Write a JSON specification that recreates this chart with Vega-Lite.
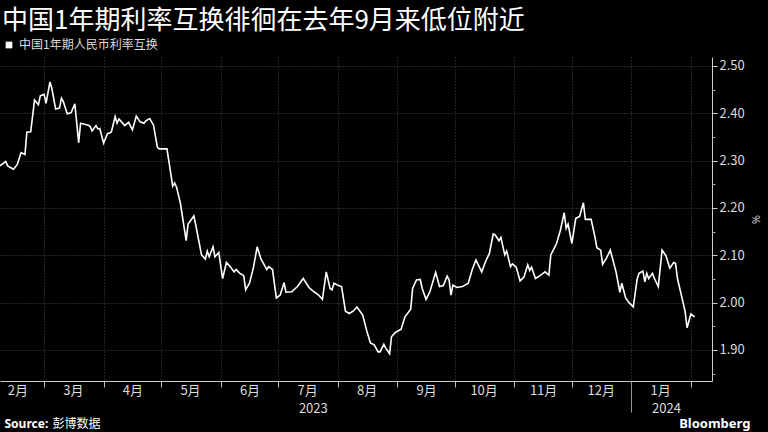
{
  "$schema": "https://vega.github.io/schema/vega-lite/v6.json",
  "width": 712,
  "height": 324,
  "autosize": {"type": "none"},
  "padding": {"left": 0, "top": 57, "right": 56, "bottom": 51},
  "background": "#000000",
  "title": {
    "text": "中国1年期利率互换徘徊在去年9月来低位附近",
    "anchor": "start",
    "frame": "group",
    "font": "Noto Sans CJK SC",
    "fontSize": 26,
    "fontWeight": "normal",
    "color": "#ffffff",
    "offset": 5,
    "dx": 2
  },
  "config": {
    "view": {"stroke": null},
    "axis": {"labelFont": "Liberation Sans Narrow, Noto Sans CJK SC, sans-serif", "titleFont": "Noto Sans CJK SC"}
  },
  "data": {
    "values": [
      {"date": "2023-02-06", "value": 2.289},
      {"date": "2023-02-07", "value": 2.292},
      {"date": "2023-02-09", "value": 2.298},
      {"date": "2023-02-10", "value": 2.289},
      {"date": "2023-02-13", "value": 2.282},
      {"date": "2023-02-15", "value": 2.292},
      {"date": "2023-02-17", "value": 2.317},
      {"date": "2023-02-19", "value": 2.313},
      {"date": "2023-02-20", "value": 2.360},
      {"date": "2023-02-22", "value": 2.361},
      {"date": "2023-02-24", "value": 2.428},
      {"date": "2023-02-26", "value": 2.418},
      {"date": "2023-02-27", "value": 2.437},
      {"date": "2023-03-01", "value": 2.440},
      {"date": "2023-03-02", "value": 2.421},
      {"date": "2023-03-04", "value": 2.466},
      {"date": "2023-03-05", "value": 2.453},
      {"date": "2023-03-07", "value": 2.409},
      {"date": "2023-03-09", "value": 2.411},
      {"date": "2023-03-10", "value": 2.432},
      {"date": "2023-03-11", "value": 2.425},
      {"date": "2023-03-13", "value": 2.399},
      {"date": "2023-03-15", "value": 2.401},
      {"date": "2023-03-17", "value": 2.420},
      {"date": "2023-03-19", "value": 2.338},
      {"date": "2023-03-20", "value": 2.379},
      {"date": "2023-03-24", "value": 2.375},
      {"date": "2023-03-25", "value": 2.372},
      {"date": "2023-03-26", "value": 2.363},
      {"date": "2023-03-28", "value": 2.374},
      {"date": "2023-03-29", "value": 2.367},
      {"date": "2023-03-30", "value": 2.368},
      {"date": "2023-04-01", "value": 2.337},
      {"date": "2023-04-03", "value": 2.357},
      {"date": "2023-04-05", "value": 2.360},
      {"date": "2023-04-07", "value": 2.393},
      {"date": "2023-04-08", "value": 2.379},
      {"date": "2023-04-09", "value": 2.388},
      {"date": "2023-04-12", "value": 2.374},
      {"date": "2023-04-14", "value": 2.381},
      {"date": "2023-04-16", "value": 2.365},
      {"date": "2023-04-18", "value": 2.394},
      {"date": "2023-04-20", "value": 2.382},
      {"date": "2023-04-22", "value": 2.379},
      {"date": "2023-04-23", "value": 2.384},
      {"date": "2023-04-25", "value": 2.389},
      {"date": "2023-04-27", "value": 2.375},
      {"date": "2023-04-29", "value": 2.328},
      {"date": "2023-04-30", "value": 2.325},
      {"date": "2023-05-04", "value": 2.325},
      {"date": "2023-05-07", "value": 2.246},
      {"date": "2023-05-08", "value": 2.253},
      {"date": "2023-05-09", "value": 2.244},
      {"date": "2023-05-11", "value": 2.210},
      {"date": "2023-05-14", "value": 2.131},
      {"date": "2023-05-15", "value": 2.166},
      {"date": "2023-05-18", "value": 2.183},
      {"date": "2023-05-19", "value": 2.164},
      {"date": "2023-05-22", "value": 2.101},
      {"date": "2023-05-24", "value": 2.092},
      {"date": "2023-05-25", "value": 2.109},
      {"date": "2023-05-26", "value": 2.097},
      {"date": "2023-05-28", "value": 2.118},
      {"date": "2023-05-29", "value": 2.097},
      {"date": "2023-05-31", "value": 2.106},
      {"date": "2023-06-02", "value": 2.051},
      {"date": "2023-06-04", "value": 2.085},
      {"date": "2023-06-06", "value": 2.076},
      {"date": "2023-06-08", "value": 2.065},
      {"date": "2023-06-09", "value": 2.070},
      {"date": "2023-06-11", "value": 2.062},
      {"date": "2023-06-13", "value": 2.057},
      {"date": "2023-06-14", "value": 2.027},
      {"date": "2023-06-16", "value": 2.041},
      {"date": "2023-06-18", "value": 2.073},
      {"date": "2023-06-20", "value": 2.118},
      {"date": "2023-06-22", "value": 2.092},
      {"date": "2023-06-23", "value": 2.085},
      {"date": "2023-06-25", "value": 2.070},
      {"date": "2023-06-26", "value": 2.076},
      {"date": "2023-06-28", "value": 2.070},
      {"date": "2023-06-30", "value": 2.010},
      {"date": "2023-07-02", "value": 2.016},
      {"date": "2023-07-04", "value": 2.042},
      {"date": "2023-07-05", "value": 2.022},
      {"date": "2023-07-08", "value": 2.023},
      {"date": "2023-07-11", "value": 2.034},
      {"date": "2023-07-14", "value": 2.051},
      {"date": "2023-07-17", "value": 2.032},
      {"date": "2023-07-19", "value": 2.025},
      {"date": "2023-07-22", "value": 2.016},
      {"date": "2023-07-24", "value": 2.007},
      {"date": "2023-07-26", "value": 2.065},
      {"date": "2023-07-28", "value": 2.030},
      {"date": "2023-07-29", "value": 2.027},
      {"date": "2023-07-30", "value": 2.041},
      {"date": "2023-08-02", "value": 2.035},
      {"date": "2023-08-03", "value": 2.034},
      {"date": "2023-08-05", "value": 1.982},
      {"date": "2023-08-07", "value": 1.977},
      {"date": "2023-08-09", "value": 1.982},
      {"date": "2023-08-11", "value": 1.991},
      {"date": "2023-08-14", "value": 1.974},
      {"date": "2023-08-16", "value": 1.942},
      {"date": "2023-08-18", "value": 1.915},
      {"date": "2023-08-20", "value": 1.911},
      {"date": "2023-08-22", "value": 1.896},
      {"date": "2023-08-23", "value": 1.896},
      {"date": "2023-08-25", "value": 1.912},
      {"date": "2023-08-26", "value": 1.904},
      {"date": "2023-08-28", "value": 1.892},
      {"date": "2023-08-29", "value": 1.928},
      {"date": "2023-08-31", "value": 1.937},
      {"date": "2023-09-03", "value": 1.944},
      {"date": "2023-09-05", "value": 1.970},
      {"date": "2023-09-08", "value": 1.986},
      {"date": "2023-09-09", "value": 2.030},
      {"date": "2023-09-11", "value": 2.048},
      {"date": "2023-09-13", "value": 2.049},
      {"date": "2023-09-14", "value": 2.030},
      {"date": "2023-09-16", "value": 2.007},
      {"date": "2023-09-18", "value": 2.023},
      {"date": "2023-09-21", "value": 2.064},
      {"date": "2023-09-23", "value": 2.034},
      {"date": "2023-09-25", "value": 2.036},
      {"date": "2023-09-27", "value": 2.056},
      {"date": "2023-09-28", "value": 2.048},
      {"date": "2023-09-29", "value": 2.016},
      {"date": "2023-09-30", "value": 2.037},
      {"date": "2023-10-02", "value": 2.032},
      {"date": "2023-10-05", "value": 2.034},
      {"date": "2023-10-08", "value": 2.041},
      {"date": "2023-10-10", "value": 2.069},
      {"date": "2023-10-12", "value": 2.090},
      {"date": "2023-10-15", "value": 2.065},
      {"date": "2023-10-17", "value": 2.087},
      {"date": "2023-10-19", "value": 2.104},
      {"date": "2023-10-21", "value": 2.145},
      {"date": "2023-10-22", "value": 2.143},
      {"date": "2023-10-24", "value": 2.131},
      {"date": "2023-10-25", "value": 2.138},
      {"date": "2023-10-27", "value": 2.101},
      {"date": "2023-10-28", "value": 2.109},
      {"date": "2023-10-30", "value": 2.076},
      {"date": "2023-10-31", "value": 2.082},
      {"date": "2023-11-02", "value": 2.075},
      {"date": "2023-11-04", "value": 2.046},
      {"date": "2023-11-06", "value": 2.054},
      {"date": "2023-11-08", "value": 2.080},
      {"date": "2023-11-09", "value": 2.068},
      {"date": "2023-11-10", "value": 2.075},
      {"date": "2023-11-12", "value": 2.051},
      {"date": "2023-11-14", "value": 2.056},
      {"date": "2023-11-16", "value": 2.062},
      {"date": "2023-11-17", "value": 2.065},
      {"date": "2023-11-19", "value": 2.058},
      {"date": "2023-11-20", "value": 2.101},
      {"date": "2023-11-23", "value": 2.125},
      {"date": "2023-11-25", "value": 2.153},
      {"date": "2023-11-27", "value": 2.190},
      {"date": "2023-11-28", "value": 2.157},
      {"date": "2023-11-29", "value": 2.166},
      {"date": "2023-12-01", "value": 2.125},
      {"date": "2023-12-03", "value": 2.178},
      {"date": "2023-12-05", "value": 2.182},
      {"date": "2023-12-07", "value": 2.211},
      {"date": "2023-12-08", "value": 2.176},
      {"date": "2023-12-11", "value": 2.176},
      {"date": "2023-12-13", "value": 2.139},
      {"date": "2023-12-14", "value": 2.116},
      {"date": "2023-12-16", "value": 2.111},
      {"date": "2023-12-17", "value": 2.081},
      {"date": "2023-12-19", "value": 2.094},
      {"date": "2023-12-21", "value": 2.111},
      {"date": "2023-12-24", "value": 2.065},
      {"date": "2023-12-26", "value": 2.022},
      {"date": "2023-12-27", "value": 2.041},
      {"date": "2023-12-29", "value": 2.010},
      {"date": "2023-12-31", "value": 1.999},
      {"date": "2024-01-02", "value": 1.991},
      {"date": "2024-01-04", "value": 2.050},
      {"date": "2024-01-05", "value": 2.062},
      {"date": "2024-01-07", "value": 2.067},
      {"date": "2024-01-08", "value": 2.044},
      {"date": "2024-01-09", "value": 2.062},
      {"date": "2024-01-10", "value": 2.051},
      {"date": "2024-01-12", "value": 2.062},
      {"date": "2024-01-13", "value": 2.051},
      {"date": "2024-01-15", "value": 2.034},
      {"date": "2024-01-17", "value": 2.111},
      {"date": "2024-01-19", "value": 2.099},
      {"date": "2024-01-21", "value": 2.073},
      {"date": "2024-01-23", "value": 2.085},
      {"date": "2024-01-24", "value": 2.083},
      {"date": "2024-01-25", "value": 2.051},
      {"date": "2024-01-28", "value": 1.999},
      {"date": "2024-01-29", "value": 1.981},
      {"date": "2024-01-30", "value": 1.947},
      {"date": "2024-02-01", "value": 1.976},
      {"date": "2024-02-03", "value": 1.970}
    ]
  },
  "resolve": {"axis": {"x": "independent", "y": "independent"}},
  "layer": [
    {
      "mark": {"type": "line", "strokeWidth": 1.6},
      "encoding": {
        "x": {
          "field": "date",
          "type": "temporal",
          "scale": {
            "type": "utc",
            "domain": [
              {"year": 2023, "month": 2, "date": 6, "utc": true},
              {"year": 2024, "month": 2, "date": 12, "utc": true}
            ]
          },
          "axis": {
            "orient": "bottom",
            "values": [
              {"year": 2023, "month": 3, "date": 1, "utc": true},
              {"year": 2023, "month": 4, "date": 1, "utc": true},
              {"year": 2023, "month": 5, "date": 1, "utc": true},
              {"year": 2023, "month": 6, "date": 1, "utc": true},
              {"year": 2023, "month": 7, "date": 1, "utc": true},
              {"year": 2023, "month": 8, "date": 1, "utc": true},
              {"year": 2023, "month": 9, "date": 1, "utc": true},
              {"year": 2023, "month": 10, "date": 1, "utc": true},
              {"year": 2023, "month": 11, "date": 1, "utc": true},
              {"year": 2023, "month": 12, "date": 1, "utc": true},
              {"year": 2024, "month": 1, "date": 1, "utc": true},
              {"year": 2024, "month": 2, "date": 1, "utc": true}
            ],
            "labels": false,
            "ticks": true,
            "tickSize": 6,
            "tickColor": "#bbbbbb",
            "domain": true,
            "domainColor": "#cccccc",
            "grid": true,
            "gridColor": "#4a4a4a",
            "gridDash": [1, 2],
            "title": "Source:",
            "titleX": 4,
            "titleY": 42,
            "titleAlign": "left",
            "titleBaseline": "middle",
            "titleFont": "Noto Sans, sans-serif",
            "titleFontSize": 12,
            "titleFontWeight": "bold",
            "titleColor": "#ffffff"
          }
        },
        "y": {
          "field": "value",
          "type": "quantitative",
          "scale": {"domain": [1.8345, 2.519], "zero": false, "nice": false},
          "axis": {
            "orient": "right",
            "values": [1.9, 2.0, 2.1, 2.2, 2.3, 2.4, 2.5],
            "format": ".2f",
            "tickSize": 5,
            "tickColor": "#cccccc",
            "domain": true,
            "domainColor": "#cccccc",
            "labelFontSize": 13,
            "labelColor": "#dddddd",
            "labelPadding": 2,
            "grid": true,
            "gridColor": "#4a4a4a",
            "gridDash": [1, 2],
            "title": "%",
            "titleAngle": 90,
            "titleFont": "Noto Sans, sans-serif",
            "titleFontSize": 11,
            "titleFontWeight": "normal",
            "titleColor": "#cccccc",
            "titlePadding": 5
          }
        },
        "color": {
          "datum": "中国1年期人民币利率互换",
          "scale": {"range": ["#ffffff"]},
          "legend": {
            "orient": "none",
            "legendX": 3,
            "legendY": -18,
            "title": null,
            "symbolType": "square",
            "symbolSize": 45,
            "symbolFillColor": "#ffffff",
            "symbolStrokeWidth": 0,
            "symbolOpacity": 1,
            "labelFont": "Noto Sans CJK SC",
            "labelFontSize": 12,
            "labelColor": "#dddddd",
            "labelOffset": 4,
            "padding": 0
          }
        }
      }
    },
    {
      "mark": {"type": "point", "opacity": 0},
      "encoding": {
        "x": {
          "field": "date",
          "type": "temporal",
          "axis": {
            "orient": "bottom",
            "values": [
              {"year": 2023, "month": 2, "date": 15, "utc": true},
              {"year": 2023, "month": 3, "date": 16, "utc": true},
              {"year": 2023, "month": 4, "date": 16, "utc": true},
              {"year": 2023, "month": 5, "date": 16, "utc": true},
              {"year": 2023, "month": 6, "date": 16, "utc": true},
              {"year": 2023, "month": 7, "date": 16, "utc": true},
              {"year": 2023, "month": 8, "date": 16, "utc": true},
              {"year": 2023, "month": 9, "date": 16, "utc": true},
              {"year": 2023, "month": 10, "date": 16, "utc": true},
              {"year": 2023, "month": 11, "date": 16, "utc": true},
              {"year": 2023, "month": 12, "date": 16, "utc": true},
              {"year": 2024, "month": 1, "date": 16, "utc": true}
            ],
            "labelExpr": "(utcmonth(datum.value) + 1) + '月'",
            "ticks": false,
            "tickSize": 0,
            "domain": false,
            "grid": false,
            "labelOverlap": false,
            "labelFlush": false,
            "labelPadding": 3,
            "labelFontSize": 13,
            "labelColor": "#dddddd",
            "labelAlign": "center",
            "labelBaseline": "top",
            "title": "彭博数据",
            "titleX": 52,
            "titleY": 42,
            "titleAlign": "left",
            "titleBaseline": "middle",
            "titleFont": "Noto Sans CJK SC",
            "titleFontSize": 12,
            "titleFontWeight": "normal",
            "titleColor": "#ffffff"
          }
        },
        "y": {
          "field": "value",
          "type": "quantitative",
          "axis": {
            "orient": "right",
            "values": [1.85, 1.95, 2.05, 2.15, 2.25, 2.35, 2.45],
            "labels": false,
            "ticks": true,
            "tickSize": 3,
            "tickColor": "#aaaaaa",
            "domain": false,
            "grid": false,
            "title": null
          }
        }
      }
    },
    {
      "mark": {"type": "point", "opacity": 0},
      "encoding": {
        "x": {
          "field": "date",
          "type": "temporal",
          "axis": {
            "orient": "bottom",
            "values": [
              {"year": 2023, "month": 7, "date": 19, "utc": true},
              {"year": 2024, "month": 1, "date": 19, "utc": true}
            ],
            "labelExpr": "'' + utcyear(datum.value)",
            "ticks": false,
            "tickSize": 0,
            "domain": false,
            "grid": false,
            "labelOverlap": false,
            "labelFlush": false,
            "labelPadding": 21,
            "labelFontSize": 13,
            "labelColor": "#dddddd",
            "labelAlign": "center",
            "labelBaseline": "top",
            "title": "Bloomberg",
            "titleX": 750,
            "titleY": 42,
            "titleAlign": "right",
            "titleBaseline": "middle",
            "titleFont": "Noto Sans, sans-serif",
            "titleFontSize": 13,
            "titleFontWeight": "bold",
            "titleColor": "#ffffff"
          }
        },
        "y": {"field": "value", "type": "quantitative", "axis": null}
      }
    },
    {
      "mark": {"type": "point", "opacity": 0},
      "encoding": {
        "x": {
          "field": "date",
          "type": "temporal",
          "axis": {
            "orient": "bottom",
            "values": [{"year": 2024, "month": 1, "date": 1, "utc": true}],
            "labels": false,
            "ticks": true,
            "tickSize": 31,
            "tickColor": "#999999",
            "domain": false,
            "grid": false,
            "title": null
          }
        },
        "y": {"field": "value", "type": "quantitative", "axis": null}
      }
    }
  ]
}
